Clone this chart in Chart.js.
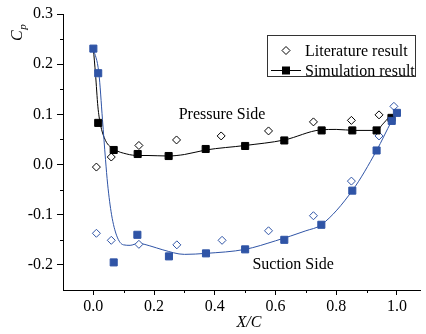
<!DOCTYPE html>
<html>
<head>
<meta charset="utf-8">
<script src="https://cdn.jsdelivr.net/npm/chart.js@4.4.1/dist/chart.umd.min.js"></script>
<style>
  html, body { margin: 0; padding: 0; background: #fff; }
</style>
</head>
<body>
<canvas id="cp" width="426" height="334"></canvas>
<script>
const FONT = "Liberation Serif";
const BLUE = "#2f54a6";

// literature result (open diamonds)
const xLitPressure = [0.01, 0.059, 0.15, 0.274, 0.421, 0.577, 0.725, 0.85, 0.941];
const cpLitPressure = [-0.005, 0.015, 0.038, 0.049, 0.057, 0.067, 0.085, 0.088, 0.099];
const xLitSuction = [0.01, 0.059, 0.15, 0.275, 0.424, 0.577, 0.725, 0.85, 0.941, 0.99];
const cpLitSuction = [-0.137, -0.151, -0.159, -0.16, -0.151, -0.132, -0.102, -0.033, 0.057, 0.116];

// simulation result (filled squares)
const xSimPressure = [0.016, 0.067, 0.146, 0.248, 0.37, 0.5, 0.629, 0.752, 0.853, 0.933, 0.982];
const cpSimPressure = [0.083, 0.029, 0.021, 0.017, 0.031, 0.037, 0.048, 0.068, 0.068, 0.068, 0.093];
const xSimSuction = [0.0, 0.016, 0.067, 0.145, 0.249, 0.371, 0.5, 0.629, 0.751, 0.853, 0.933, 0.983, 1.0];
const cpSimSuction = [0.231, 0.182, -0.195, -0.14, -0.183, -0.177, -0.169, -0.15, -0.12, -0.052, 0.028, 0.087, 0.103];

// fitted curves
const xFitPressure = [0, 0.007, 0.015, 0.023, 0.04, 0.067, 0.11, 0.148, 0.18, 0.245, 0.3, 0.37, 0.5, 0.629, 0.748, 0.8, 0.862, 0.932, 0.954, 0.976, 1.0];
const cpFitPressure = [0.231, 0.181, 0.115, 0.081, 0.048, 0.031, 0.021, 0.018, 0.018, 0.017, 0.02, 0.029, 0.038, 0.049, 0.069, 0.07, 0.068, 0.068, 0.081, 0.095, 0.102];
const xFitSuction = [0, 0.018, 0.03, 0.04, 0.047, 0.06, 0.077, 0.099, 0.121, 0.148, 0.186, 0.229, 0.3, 0.371, 0.5, 0.6, 0.7, 0.751, 0.853, 0.933, 0.982, 0.995];
const cpFitSuction = [0.231, 0.183, 0.09, 0.01, -0.039, -0.1, -0.142, -0.16, -0.161, -0.157, -0.162, -0.17, -0.179, -0.177, -0.169, -0.152, -0.132, -0.12, -0.052, 0.028, 0.086, 0.1];

const xTicks = [0, 0.2, 0.4, 0.6, 0.8, 1.0];
const yTicks = [-0.2, -0.1, 0, 0.1, 0.2, 0.3];
const xMinorTicks = [0.1, 0.3, 0.5, 0.7, 0.9];
const yMinorTicks = [-0.15, -0.05, 0.05, 0.15, 0.25];

const toPoints = (xs, ys) => xs.map((x, i) => ({ x: x, y: ys[i] }));

const lineSet = (data, color, order) => ({
    data: data,
    showLine: true,
    borderColor: color,
    borderWidth: 1,
    pointRadius: 0,
    cubicInterpolationMode: "monotone",
    order: order,
});

const markerSet = (data, style, radius, fill, stroke, order) => ({
    data: data,
    showLine: false,
    pointStyle: style,
    pointRadius: radius,
    pointBackgroundColor: fill,
    pointBorderColor: stroke,
    pointBorderWidth: 1,
    order: order,
});

const decorations = {
    id: "decorations",
    afterDraw(chart) {
        const ctx = chart.ctx;
        const xs = chart.scales.x;
        const ys = chart.scales.y;
        const area = chart.chartArea;
        ctx.save();

        // minor ticks
        ctx.strokeStyle = "#000";
        ctx.lineWidth = 1;
        ctx.beginPath();
        xMinorTicks.forEach((v) => {
            const px = Math.round(xs.getPixelForValue(v)) + 0.5;
            ctx.moveTo(px, area.bottom);
            ctx.lineTo(px, area.bottom + 3);
        });
        yMinorTicks.forEach((v) => {
            const py = Math.round(ys.getPixelForValue(v)) + 0.5;
            ctx.moveTo(area.left, py);
            ctx.lineTo(area.left - 3, py);
        });
        ctx.stroke();

        // side labels
        ctx.fillStyle = "#000";
        ctx.font = "16px '" + FONT + "'";
        ctx.textAlign = "left";
        ctx.textBaseline = "alphabetic";
        ctx.fillText("Pressure Side", xs.getPixelForValue(0.281), ys.getPixelForValue(0.091));
        ctx.fillText("Suction Side", xs.getPixelForValue(0.524), ys.getPixelForValue(-0.208));

        // legend box
        ctx.strokeStyle = "#333";
        ctx.strokeRect(267.5, 35.5, 148, 41);
        ctx.fillText("Literature result", 305, 56);
        ctx.fillText("Simulation result", 305, 76);
        ctx.beginPath();
        ctx.moveTo(286, 46.5);
        ctx.lineTo(290, 50.5);
        ctx.lineTo(286, 54.5);
        ctx.lineTo(282, 50.5);
        ctx.closePath();
        ctx.fillStyle = "#fff";
        ctx.fill();
        ctx.strokeStyle = "#000";
        ctx.stroke();
        ctx.beginPath();
        ctx.moveTo(271, 70.5);
        ctx.lineTo(301, 70.5);
        ctx.stroke();
        ctx.fillStyle = "#000";
        ctx.fillRect(282, 66.5, 8, 8);

        // axis titles
        ctx.font = "italic 16px '" + FONT + "'";
        ctx.textAlign = "center";
        ctx.fillText("X/C", 249, 327);

        ctx.translate(22, 41);
        ctx.rotate(-Math.PI / 2);
        ctx.textAlign = "left";
        ctx.fillText("C", 0, 0);
        const w = ctx.measureText("C").width;
        ctx.font = "italic 11px '" + FONT + "'";
        ctx.fillText("p", w + 0.5, 4);
        ctx.restore();
    },
};

const config = {
    type: "scatter",
    data: {
        datasets: [
            markerSet(toPoints(xSimSuction, cpSimSuction), "rect", 5, BLUE, BLUE, 1),
            markerSet(toPoints(xSimPressure, cpSimPressure), "rect", 5, "#000", "#000", 2),
            markerSet(toPoints(xLitSuction, cpLitSuction), "rectRot", 4, "#fff", BLUE, 3),
            markerSet(toPoints(xLitPressure, cpLitPressure), "rectRot", 4, "#fff", "#000", 4),
            lineSet(toPoints(xFitSuction, cpFitSuction), BLUE, 5),
            lineSet(toPoints(xFitPressure, cpFitPressure), "#000", 6),
        ],
    },
    options: {
        responsive: false,
        animation: false,
        layout: { padding: { top: 14, right: 0, left: 0, bottom: 0 } },
        plugins: {
            legend: { display: false },
            tooltip: { enabled: false },
        },
        scales: {
            x: {
                type: "linear",
                min: -0.1,
                max: 1.076,
                afterBuildTicks: (s) => {
                    s.ticks = xTicks.map((v) => ({ value: v }));
                },
                afterFit: (s) => {
                    s.height = 44;
                },
                ticks: {
                    color: "#000",
                    font: { family: FONT, size: 16 },
                    padding: 2,
                    maxRotation: 0,
                    autoSkip: false,
                    callback: (v) => Number(v).toFixed(1),
                },
                grid: { drawOnChartArea: false, drawTicks: true, tickLength: 5, color: "#000" },
                border: { display: true, color: "#000", width: 1 },
            },
            y: {
                type: "linear",
                min: -0.25,
                max: 0.3,
                afterBuildTicks: (s) => {
                    s.ticks = yTicks.map((v) => ({ value: v }));
                },
                afterFit: (s) => {
                    s.width = 63;
                },
                ticks: {
                    color: "#000",
                    font: { family: FONT, size: 16 },
                    padding: 4,
                    autoSkip: false,
                    callback: (v) => Number(v).toFixed(1),
                },
                grid: { drawOnChartArea: false, drawTicks: true, tickLength: 6, color: "#000" },
                border: { display: true, color: "#000", width: 1 },
            },
        },
    },
    plugins: [decorations],
};

const start = () => new Chart(document.getElementById("cp"), config);
Promise.all([
    document.fonts.load("16px '" + FONT + "'"),
    document.fonts.load("italic 16px '" + FONT + "'"),
]).then(start, start);
</script>
</body>
</html>
